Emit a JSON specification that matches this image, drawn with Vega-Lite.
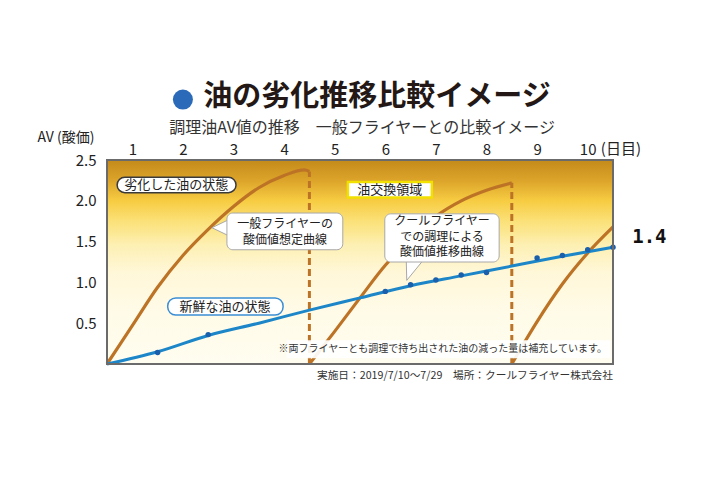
{
  "$schema": "https://vega.github.io/schema/vega-lite/v6.json",
  "width": 506,
  "height": 204,
  "autosize": {"type": "none"},
  "padding": {"left": 107, "top": 160, "right": 112, "bottom": 115},
  "background": "white",
  "config": {"font": "Noto Sans CJK JP", "view": {"stroke": null}},
  "title": {
    "text": "油の劣化推移比較イメージ",
    "fontSize": 29,
    "fontWeight": "bold",
    "color": "#231815",
    "anchor": "middle",
    "dx": 17,
    "offset": -22
  },
  "encoding": {
    "x": {
      "field": "x",
      "type": "quantitative",
      "scale": {"domain": [0, 10], "nice": false, "zero": false},
      "axis": {
        "orient": "top",
        "values": [0.5, 1.5, 2.5, 3.5, 4.5, 5.5, 6.5, 7.5, 8.5, 9.5],
        "labelExpr": "format(datum.value + 0.5, 'd')",
        "domain": false,
        "ticks": false,
        "grid": false,
        "title": null,
        "labelFontSize": 15,
        "labelColor": "#222222",
        "labelPadding": 3
      }
    },
    "y": {
      "field": "y",
      "type": "quantitative",
      "scale": {"domain": [0, 2.5], "nice": false, "zero": false},
      "axis": {
        "values": [0.5, 1, 1.5, 2, 2.5],
        "format": ".1f",
        "domain": false,
        "ticks": false,
        "grid": false,
        "labelFontSize": 15,
        "labelColor": "#222222",
        "labelPadding": 11,
        "title": "AV (酸価)",
        "titleAngle": 0,
        "titleAlign": "left",
        "titleBaseline": "middle",
        "titleX": -70,
        "titleY": -23,
        "titleFontSize": 14,
        "titleFontWeight": "normal",
        "titleColor": "#222222"
      }
    }
  },
  "layer": [
    {
      "data": {"values": [{"x": 0, "x2": 10, "y": 0, "y2": 2.5}]},
      "mark": {
        "type": "rect",
        "fill": {
          "gradient": "linear",
          "x1": 0, "y1": 0, "x2": 0, "y2": 1,
          "stops": [
            {"offset": 0, "color": "#c48a1a"},
            {"offset": 0.1, "color": "#dca42a"},
            {"offset": 0.2, "color": "#f7cc42"},
            {"offset": 0.3, "color": "#fbe178"},
            {"offset": 0.42, "color": "#fdf0b4"},
            {"offset": 0.55, "color": "#fff7d8"},
            {"offset": 0.75, "color": "#fffbe8"},
            {"offset": 1, "color": "#fffdf0"}
          ]
        }
      },
      "encoding": {"x2": {"field": "x2"}, "y2": {"field": "y2"}}
    },
    {
      "data": {"values": [{"y": 0.5}, {"y": 1}, {"y": 1.25}, {"y": 1.5}]},
      "mark": {"type": "rule", "color": "#999999", "strokeWidth": 1},
      "encoding": {"x": {"datum": 0}, "x2": {"datum": 10}}
    },
    {
      "data": {"values": [{"x": 1}, {"x": 2}, {"x": 3}, {"x": 4}, {"x": 5}, {"x": 5.5}, {"x": 6}, {"x": 6.5}, {"x": 7}, {"x": 7.5}, {"x": 8}, {"x": 8.5}, {"x": 9}, {"x": 9.5}]},
      "mark": {"type": "rule", "color": "#8f8f8f", "strokeWidth": 1},
      "encoding": {"y": {"datum": 0}, "y2": {"datum": 2.5}}
    },
    {
      "data": {"values": [{"y": 2}]},
      "mark": {"type": "rule", "color": "#d63b1c", "strokeWidth": 3, "strokeDash": [13, 5]},
      "encoding": {"x": {"datum": 0}, "x2": {"datum": 10}}
    },
    {
      "data": {"values": [
        {"seg": "a", "x": 0, "y": 0}, {"seg": "a", "x": 0.5, "y": 0.47}, {"seg": "a", "x": 1, "y": 0.94},
        {"seg": "a", "x": 1.5, "y": 1.33}, {"seg": "a", "x": 2, "y": 1.65}, {"seg": "a", "x": 2.5, "y": 1.93},
        {"seg": "a", "x": 3, "y": 2.16}, {"seg": "a", "x": 3.5, "y": 2.31}, {"seg": "a", "x": 3.9, "y": 2.38},
        {"seg": "a", "x": 4, "y": 2.36},
        {"seg": "b", "x": 4, "y": 0}, {"seg": "b", "x": 4.5, "y": 0.4}, {"seg": "b", "x": 5, "y": 0.81},
        {"seg": "b", "x": 5.5, "y": 1.21}, {"seg": "b", "x": 6, "y": 1.53}, {"seg": "b", "x": 6.5, "y": 1.81},
        {"seg": "b", "x": 7, "y": 2.0}, {"seg": "b", "x": 7.5, "y": 2.13}, {"seg": "b", "x": 8, "y": 2.22},
        {"seg": "c", "x": 8, "y": 0}, {"seg": "c", "x": 8.5, "y": 0.52}, {"seg": "c", "x": 9, "y": 0.98},
        {"seg": "c", "x": 9.5, "y": 1.36}, {"seg": "c", "x": 10, "y": 1.68}
      ]},
      "mark": {"type": "line", "interpolate": "monotone", "color": "#bd7326", "strokeWidth": 3.2},
      "encoding": {"detail": {"field": "seg", "type": "nominal"}}
    },
    {
      "data": {"values": [{"x": 4, "y": 0, "y2": 2.36}, {"x": 8, "y": 0, "y2": 2.22}]},
      "mark": {"type": "rule", "color": "#bd7326", "strokeWidth": 3, "strokeDash": [7, 4]},
      "encoding": {"y2": {"field": "y2"}}
    },
    {
      "data": {"values": [
        {"x": 0, "y": 0}, {"x": 1, "y": 0.15}, {"x": 2, "y": 0.35}, {"x": 3, "y": 0.5},
        {"x": 4, "y": 0.66}, {"x": 5, "y": 0.81}, {"x": 6, "y": 0.96}, {"x": 7, "y": 1.08},
        {"x": 8, "y": 1.2}, {"x": 9, "y": 1.32}, {"x": 10, "y": 1.43}
      ]},
      "mark": {"type": "line", "interpolate": "monotone", "color": "#1c86c8", "strokeWidth": 3},
      "encoding": {}
    },
    {
      "data": {"values": [
        {"x": 1, "y": 0.14}, {"x": 2, "y": 0.36}, {"x": 5.5, "y": 0.89}, {"x": 6, "y": 0.97},
        {"x": 6.5, "y": 1.03}, {"x": 7, "y": 1.09}, {"x": 7.5, "y": 1.12}, {"x": 8.5, "y": 1.3},
        {"x": 9, "y": 1.33}, {"x": 9.5, "y": 1.4}, {"x": 10, "y": 1.43}
      ]},
      "mark": {"type": "point", "filled": true, "color": "#1a5fab", "size": 30, "opacity": 1},
      "encoding": {}
    },
    {
      "data": {"values": [{"x": 2.37, "y": 1.67}]},
      "mark": {"type": "point", "shape": "M -1 0 L 0.25 -0.6 L 0.25 0.6 Z", "size": 900, "filled": true, "fill": "white", "stroke": "#a8a8a8", "strokeWidth": 1, "opacity": 1},
      "encoding": {}
    },
    {
      "data": {"values": [{"x": 6.09, "y": 1.27}]},
      "mark": {"type": "point", "shape": "M -0.42 1 L -0.45 -0.25 L 0.6 -0.25 Z", "size": 1600, "filled": true, "fill": "white", "stroke": "#a8a8a8", "strokeWidth": 1, "opacity": 1},
      "encoding": {}
    },
    {
      "data": {"values": [{"x": 2.37, "x2": 4.66, "y": 1.4, "y2": 1.85}, {"x": 5.49, "x2": 7.75, "y": 1.25, "y2": 1.84}]},
      "mark": {"type": "rect", "fill": "white", "stroke": "#a8a8a8", "strokeWidth": 1, "cornerRadius": 6},
      "encoding": {"x2": {"field": "x2"}, "y2": {"field": "y2"}}
    },
    {
      "data": {"values": [{"x": 0.2, "x2": 2.55, "y": 2.1, "y2": 2.29}]},
      "mark": {"type": "rect", "fill": "white", "stroke": "#3a3a3a", "strokeWidth": 1.5, "cornerRadius": 8},
      "encoding": {"x2": {"field": "x2"}, "y2": {"field": "y2"}}
    },
    {
      "data": {"values": [{"x": 1.2, "x2": 3.48, "y": 0.6, "y2": 0.81}]},
      "mark": {"type": "rect", "fill": "white", "stroke": "#3b8ed3", "strokeWidth": 1.5, "cornerRadius": 8},
      "encoding": {"x2": {"field": "x2"}, "y2": {"field": "y2"}}
    },
    {
      "data": {"values": [{"x": 4.76, "x2": 6.42, "y": 2.04, "y2": 2.23}]},
      "mark": {"type": "rect", "fill": "white", "stroke": "#f2e000", "strokeWidth": 2.5},
      "encoding": {"x2": {"field": "x2"}, "y2": {"field": "y2"}}
    },
    {
      "data": {"values": [
        {"x": 1.37, "y": 2.19, "label": "劣化した油の状態"},
        {"x": 5.59, "y": 2.13, "label": "油交換領域"},
        {"x": 2.33, "y": 0.7, "label": "新鮮な油の状態"}
      ]},
      "mark": {"type": "text", "fontSize": 13, "color": "#222222", "align": "center", "baseline": "middle"},
      "encoding": {"text": {"field": "label"}}
    },
    {
      "data": {"values": [
        {"x": 3.52, "y": 1.71, "label": "一般フライヤーの\n酸価値想定曲線"},
        {"x": 6.62, "y": 1.75, "label": "クールフライヤー\nでの調理による\n酸価値推移曲線"}
      ]},
      "mark": {"type": "text", "fontSize": 12, "lineHeight": 15.6, "lineBreak": "\n", "color": "#222222", "align": "center", "baseline": "middle"},
      "encoding": {"text": {"field": "label"}}
    },
    {
      "data": {"values": [{"x": 3.55, "x2": 9.95, "y": 0.07, "y2": 0.29}]},
      "mark": {"type": "rect", "fill": "white", "opacity": 0.92},
      "encoding": {"x2": {"field": "x2"}, "y2": {"field": "y2"}}
    },
    {
      "data": {"values": [{"x": 9.88, "y": 0.18, "label": "※両フライヤーとも調理で持ち出された油の減った量は補充しています。"}]},
      "mark": {"type": "text", "fontSize": 10, "color": "#333333", "align": "right", "baseline": "middle"},
      "encoding": {"text": {"field": "label"}}
    },
    {
      "data": {"values": [{"x": 0, "x2": 10, "y": 0, "y2": 2.5}]},
      "mark": {"type": "rect", "filled": false, "stroke": "#6b6b6b", "strokeWidth": 2},
      "encoding": {"x2": {"field": "x2"}, "y2": {"field": "y2"}}
    },
    {
      "data": {"values": [{"x": 9.76, "y": 2.63, "label": "(日目)"}]},
      "mark": {"type": "text", "fontSize": 15, "color": "#222222", "align": "left", "baseline": "middle"},
      "encoding": {"text": {"field": "label"}}
    },
    {
      "data": {"values": [{"x": 5.04, "y": 2.89, "label": "調理油AV値の推移　一般フライヤーとの比較イメージ"}]},
      "mark": {"type": "text", "fontSize": 16, "color": "#333333", "align": "center", "baseline": "middle"},
      "encoding": {"text": {"field": "label"}}
    },
    {
      "data": {"values": [{"x": 10.0, "y": -0.15, "label": "実施日：2019/7/10〜7/29　場所：クールフライヤー株式会社"}]},
      "mark": {"type": "text", "fontSize": 10.7, "color": "#333333", "align": "right", "baseline": "middle"},
      "encoding": {"text": {"field": "label"}}
    },
    {
      "data": {"values": [{"x": 10.38, "y": 1.56, "label": "1.4"}]},
      "mark": {"type": "text", "font": "DejaVu Sans Mono", "fontWeight": "bold", "fontSize": 19, "color": "#111111", "align": "left", "baseline": "middle"},
      "encoding": {"text": {"field": "label"}}
    },
    {
      "data": {"values": [{"x": 1.5, "y": 3.24}]},
      "mark": {"type": "point", "shape": "circle", "filled": true, "color": "#2a6ab8", "size": 400, "opacity": 1},
      "encoding": {}
    }
  ]
}
